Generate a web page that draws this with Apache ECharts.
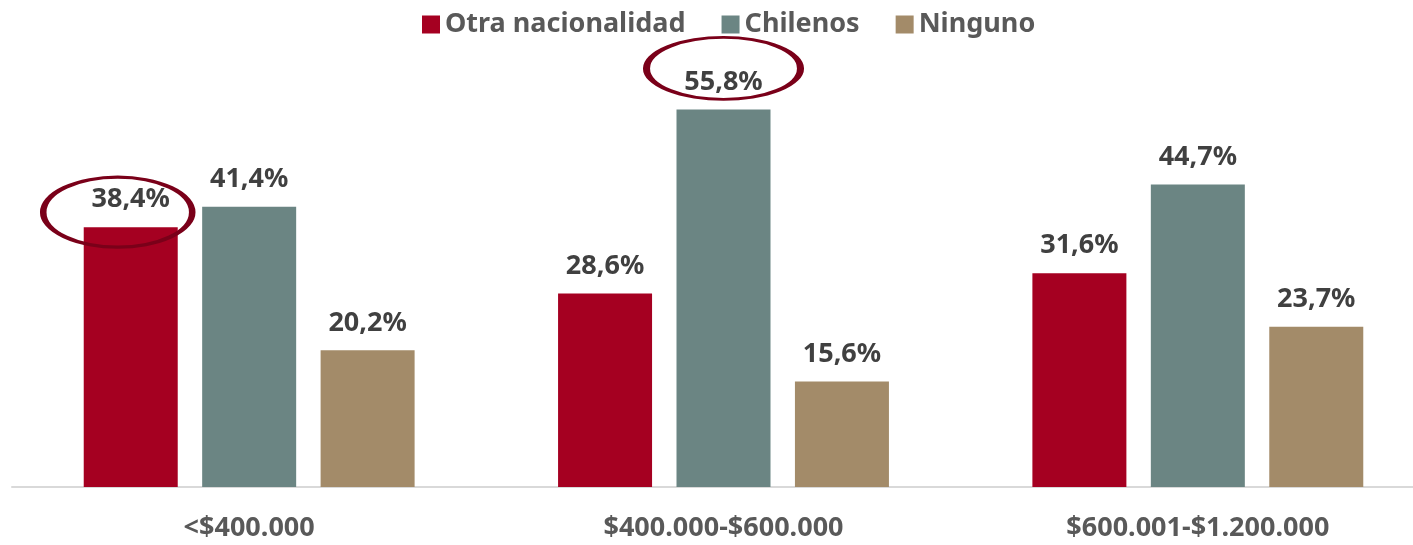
<!DOCTYPE html>
<html>
<head>
<meta charset="utf-8">
<script src="https://cdn.jsdelivr.net/npm/echarts@6/dist/echarts.min.js"></script>
<style>
  html, body { margin: 0; padding: 0; background: #fff; }
  #chart { width: 1413px; height: 545px; }
</style>
</head>
<body>
<div id="chart"></div>
<script>
// datos del gráfico
const categories = ['<$400.000', '$400.000-$600.000', '$600.001-$1.200.000'];
const seriesNames = ['Otra nacionalidad', 'Chilenos', 'Ninguno'];
const otraNacionalidad = [38.4, 28.6, 31.6];
const chilenos = [41.4, 55.8, 44.7];
const ninguno = [20.2, 15.6, 23.7];
const colors = ['#A50021', '#6B8583', '#A38B69'];

const FONT = "'Noto Sans', sans-serif";
const ELLIPSE = 'path://M0,1A1,1,0,1,1,2,1A1,1,0,1,1,0,1Z';

function fmt(p) {
    return p.value.toFixed(1).replace('.', ',') + '%';
}

function barSeries(name, data, color, marks) {
    const s = {
        name: name,
        type: 'bar',
        data: data,
        barWidth: 94,
        barGap: '26%',
        itemStyle: { color: color },
        label: {
            show: true,
            position: 'top',
            distance: 14,
            formatter: fmt,
            fontFamily: FONT,
            fontWeight: 'bold',
            fontSize: 27,
            color: '#404040'
        }
    };
    if (marks) {
        s.markPoint = {
            symbol: ELLIPSE,
            silent: true,
            label: { show: false },
            itemStyle: { color: 'rgba(0,0,0,0)', borderColor: '#7A0019', borderWidth: 4.5 },
            data: marks
        };
    }
    return s;
}

const chart = echarts.init(document.getElementById('chart'));
chart.setOption({
    animation: false,
    backgroundColor: '#fff',
    legend: {
        data: seriesNames,
        top: 11,
        left: 422,
        padding: 0,
        icon: 'rect',
        itemWidth: 18,
        itemHeight: 18,
        itemGap: 36,
        textStyle: {
            fontFamily: FONT,
            fontWeight: 'bold',
            fontSize: 27,
            color: '#595959'
        }
    },
    grid: {
        left: 12,
        width: 1423,
        top: 81,
        height: 406,
        outerBoundsMode: 'none',
        containLabel: false
    },
    xAxis: {
        type: 'category',
        data: categories,
        axisLine: { lineStyle: { color: '#D9D9D9', width: 2 } },
        axisTick: { show: false },
        axisLabel: {
            margin: 28,
            fontFamily: FONT,
            fontWeight: 'bold',
            fontSize: 27,
            color: '#595959'
        }
    },
    yAxis: {
        type: 'value',
        min: 0,
        max: 60,
        show: false,
        splitLine: { show: false }
    },
    series: [
        barSeries(seriesNames[0], otraNacionalidad, colors[0], [
            { coord: [0, otraNacionalidad[0]], symbolSize: [149, 70], symbolOffset: [-13, -15] }
        ]),
        barSeries(seriesNames[1], chilenos, colors[1], [
            { coord: [1, chilenos[1]], symbolSize: [154, 62], symbolOffset: [0, -41] }
        ]),
        barSeries(seriesNames[2], ninguno, colors[2])
    ]
});
</script>
</body>
</html>
